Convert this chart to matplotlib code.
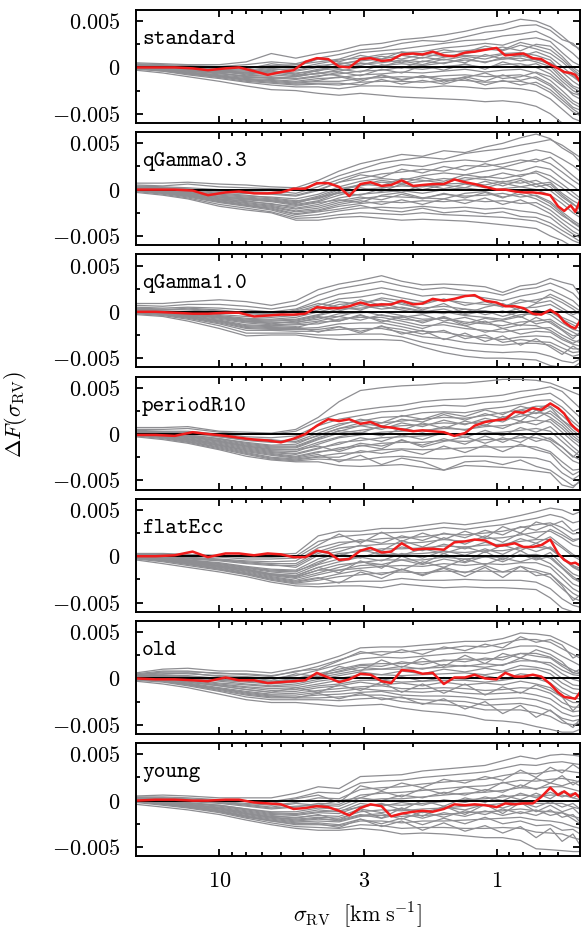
import numpy as np
import matplotlib.pyplot as plt
from matplotlib.ticker import FixedLocator, FixedFormatter, NullFormatter

plt.rcParams["mathtext.fontset"] = "cm"

# x positions (sigma_RV, km/s) of the grey model curves and of the red curve
sigma_grey = [20, 16, 13, 10, 8, 6.5, 5.3, 4.4, 3.7, 3.1, 2.6, 2.2, 1.85,
              1.55, 1.3, 1.1, 0.95, 0.82, 0.72, 0.64, 0.58, 0.53, 0.5]
sigma_red = [20, 17, 14.5, 12.5, 11, 9.5, 8.5, 7.5, 6.7, 6.0, 5.4, 4.9, 4.45,
             4.05, 3.7, 3.4, 3.1, 2.85, 2.6, 2.4, 2.2, 2.0, 1.85, 1.7, 1.55,
             1.42, 1.3, 1.2, 1.1, 1.0, 0.93, 0.86, 0.8, 0.74, 0.69, 0.64,
             0.6, 0.57, 0.54, 0.52, 0.5]

panel_labels = ["standard", "qGamma0.3", "qGamma1.0", "periodR10",
                "flatEcc", "old", "young"]

# all Delta F values below are in units of 1e-3
grey_standard = [
    [0.5, 0.4, 0.3, 0.3, 0.6, 1.5, 1.0, 1.5, 1.8, 2.4, 2.6, 3.0, 3.2, 3.5, 3.9, 4.4, 4.7, 5.2, 5.0, 4.4, 3.4, 2.4, 2.0],
    [0.4, 0.3, 0.2, 0.1, 0.3, 0.6, 0.4, 1.0, 1.4, 1.9, 2.1, 2.6, 2.9, 2.8, 3.3, 3.8, 4.0, 4.5, 4.6, 4.0, 3.0, 2.6, 1.8],
    [0.3, 0.2, 0.1, -0.1, 0.0, 0.2, 0.3, 0.6, 0.9, 1.6, 1.8, 2.0, 2.3, 2.6, 2.9, 3.0, 3.4, 3.6, 3.9, 3.2, 2.4, 1.5, 0.8],
    [0.3, 0.1, 0.0, -0.2, -0.3, 0.0, -0.1, 0.4, 0.8, 1.0, 1.4, 1.6, 1.7, 2.1, 2.3, 2.6, 2.4, 3.0, 3.2, 2.8, 1.6, 0.6, 0.2],
    [0.2, 0.0, -0.2, -0.4, -0.5, -0.2, -0.3, 0.2, 0.4, 0.7, 0.9, 1.3, 1.0, 1.6, 1.8, 2.0, 1.8, 2.4, 2.0, 1.5, 0.6, -0.4, -1.0],
    [0.1, -0.1, -0.3, -0.5, -0.7, -0.5, -0.7, -0.2, 0.1, 0.4, 0.5, 0.8, 0.6, 1.1, 1.3, 1.2, 1.5, 1.6, 1.3, 0.8, -0.5, -1.5, -2.0],
    [0.1, -0.2, -0.4, -0.7, -0.9, -0.8, -1.0, -0.6, -0.4, 0.0, 0.2, 0.4, 0.2, 0.5, 0.8, 0.6, 0.9, 1.0, 0.6, 0.1, -1.2, -2.2, -2.6],
    [0.0, -0.2, -0.5, -0.8, -1.1, -1.0, -1.2, -0.9, -0.7, -0.4, -0.3, 0.0, -0.2, 0.1, 0.3, 0.0, 0.3, 0.4, 0.0, -0.7, -1.8, -3.0, -3.4],
    [0.0, -0.3, -0.5, -0.9, -1.2, -1.3, -1.5, -1.2, -1.1, -0.8, -0.7, -0.5, -0.6, -0.4, -0.2, -0.5, -0.3, -0.2, -0.6, -1.4, -2.5, -3.6, -4.0],
    [-0.1, -0.3, -0.6, -1.0, -1.3, -1.5, -1.7, -1.5, -1.5, -1.2, -1.1, -1.0, -1.1, -0.9, -0.8, -1.0, -0.9, -0.8, -1.2, -2.0, -3.2, -4.3, -4.6],
    [-0.1, -0.4, -0.7, -1.1, -1.5, -1.7, -1.9, -1.8, -1.9, -1.6, -1.5, -1.5, -1.6, -1.4, -1.4, -1.6, -1.5, -1.5, -1.9, -2.7, -3.8, -4.8, -5.2],
    [-0.2, -0.4, -0.8, -1.2, -1.6, -1.9, -2.1, -2.1, -2.3, -2.0, -2.0, -2.1, -2.2, -2.0, -2.1, -2.3, -2.2, -2.3, -2.6, -3.4, -4.5, -5.5, -5.8],
    [-0.3, -0.6, -1.0, -1.5, -2.0, -2.4, -2.5, -2.8, -3.0, -2.8, -3.0, -3.2, -3.3, -3.4, -3.5, -3.7, -3.6, -3.8, -4.2, -5.0, -6.0, -6.5, -6.5],
    [0.2, 0.1, 0.0, -0.3, -0.6, -0.4, -0.6, -0.4, 0.3, 0.8, 1.2, 0.9, 1.4, 1.2, 1.5, 1.9, 2.2, 1.8, 2.5, 2.3, 1.2, 0.0, -0.5],
    [0.0, -0.2, -0.4, -0.6, -1.0, -1.2, -1.0, -0.6, -0.9, -1.3, -0.9, -1.4, -0.9, -1.3, -1.1, -0.6, -1.2, -1.0, -0.5, -1.0, -2.0, -2.8, -3.0],
    [0.2, 0.0, -0.1, -0.4, -0.8, -0.6, -0.9, -0.3, -0.1, 0.5, 0.1, 0.7, 0.3, 0.9, 0.5, 1.4, 0.9, 1.3, 0.8, 0.5, -0.3, -1.0, -1.6],
    [0.1, -0.1, -0.3, -0.6, -1.0, -1.1, -1.3, -1.0, -0.5, -0.9, -0.2, -0.6, 0.2, -0.3, 0.4, -0.2, 0.6, 0.1, 0.4, -0.3, -1.5, -2.5, -2.9],
    [0.3, 0.2, 0.0, -0.1, -0.2, 0.4, 0.1, 0.9, 0.6, 1.3, 0.9, 1.7, 1.3, 1.9, 1.6, 2.3, 1.9, 2.7, 2.3, 1.9, 0.9, -0.2, -0.8],
    [0.0, -0.3, -0.6, -0.9, -1.3, -1.4, -1.6, -1.4, -1.0, -1.5, -0.8, -1.3, -0.9, -1.6, -1.0, -1.5, -0.8, -1.4, -1.0, -1.8, -2.9, -3.9, -4.3],
    [0.1, -0.1, -0.2, -0.5, -0.6, -0.3, -0.8, -0.7, -0.2, -0.5, 0.3, -0.1, 0.7, 0.4, 1.0, 0.5, 1.1, 0.7, 0.9, 0.3, -0.9, -2.0, -2.3],
    [0.2, 0.1, -0.1, -0.3, -0.4, -0.1, -0.4, 0.0, 0.5, 0.2, 0.8, 0.5, 1.1, 0.8, 1.2, 0.9, 1.4, 1.2, 1.7, 1.1, 0.1, -0.9, -1.4],
    [-0.1, -0.3, -0.7, -1.0, -1.4, -1.6, -1.8, -1.7, -1.7, -1.9, -1.3, -1.8, -1.4, -1.8, -1.2, -1.9, -1.4, -1.9, -1.6, -2.4, -3.5, -4.5, -5.0],
]
grey_qgamma03 = [
    [0.7, 0.7, 0.8, 0.6, 0.5, 0.3, 0.2, 1.0, 2.0, 2.8, 3.3, 3.8, 3.6, 4.2, 4.0, 4.6, 5.0, 5.6, 6.0, 5.5, 4.5, 3.8, 3.0],
    [0.5, 0.4, 0.6, 0.3, 0.2, 0.1, 0.0, 0.6, 1.5, 2.2, 2.9, 3.2, 3.5, 3.3, 3.9, 4.2, 4.4, 4.8, 5.1, 5.4, 4.8, 4.0, 3.5],
    [0.4, 0.3, 0.2, 0.0, -0.2, -0.1, -0.4, 0.3, 1.1, 1.8, 2.2, 2.7, 2.5, 3.0, 3.2, 3.0, 3.5, 3.9, 4.3, 4.0, 3.3, 2.6, 2.0],
    [0.3, 0.2, 0.0, -0.3, -0.4, -0.5, -0.7, -0.1, 0.8, 1.2, 1.7, 1.9, 2.2, 2.0, 2.6, 2.5, 2.8, 3.2, 3.0, 3.5, 2.5, 1.5, 0.9],
    [0.2, 0.1, -0.2, -0.5, -0.7, -0.8, -1.0, -0.5, 0.3, 0.9, 1.2, 1.0, 1.5, 1.8, 1.6, 2.0, 2.3, 2.0, 2.5, 2.2, 1.2, 0.4, -0.2],
    [0.1, -0.1, -0.3, -0.7, -0.9, -1.1, -1.4, -0.9, 0.0, 0.4, 0.8, 0.6, 0.9, 1.2, 1.0, 1.4, 1.2, 1.6, 1.8, 1.0, 0.2, -0.7, -1.2],
    [0.1, -0.2, -0.4, -0.9, -1.1, -1.3, -1.7, -1.3, -0.6, 0.0, 0.2, 0.4, 0.3, 0.6, 0.7, 0.5, 0.9, 0.7, 1.0, 0.3, -0.8, -1.6, -2.0],
    [0.0, -0.2, -0.5, -1.0, -1.3, -1.5, -2.0, -1.6, -0.9, -0.5, -0.3, -0.1, -0.4, 0.0, 0.2, -0.1, 0.1, 0.3, 0.0, -0.6, -1.5, -2.5, -3.0],
    [0.0, -0.3, -0.6, -1.1, -1.5, -1.8, -2.3, -2.0, -1.4, -1.0, -0.7, -0.8, -0.9, -0.5, -0.7, -0.6, -0.4, -0.8, -0.6, -1.3, -2.4, -3.3, -3.8],
    [-0.1, -0.3, -0.7, -1.3, -1.7, -2.0, -2.6, -2.3, -1.8, -1.5, -1.3, -1.4, -1.2, -1.3, -1.1, -1.3, -1.2, -1.5, -1.4, -2.2, -3.2, -4.0, -4.5],
    [-0.1, -0.4, -0.8, -1.4, -1.8, -2.2, -2.9, -2.7, -2.3, -2.0, -1.9, -2.0, -1.8, -2.0, -1.9, -2.1, -2.0, -2.3, -2.5, -3.0, -4.0, -4.8, -5.2],
    [-0.2, -0.5, -0.9, -1.6, -2.0, -2.4, -3.1, -3.0, -2.7, -2.5, -2.6, -2.7, -2.5, -2.7, -2.8, -2.9, -3.0, -3.2, -3.4, -4.0, -4.8, -5.5, -5.8],
    [-0.3, -0.6, -1.0, -1.8, -2.2, -2.5, -3.3, -3.3, -3.0, -2.9, -3.1, -3.3, -3.2, -3.3, -3.4, -3.6, -3.8, -4.0, -4.2, -5.0, -5.5, -6.2, -6.2],
    [0.2, 0.0, -0.1, -0.4, -0.6, -0.9, -1.2, -1.0, -0.2, 0.6, 0.4, 1.2, 1.0, 0.7, 1.3, 1.1, 0.8, 1.2, 0.6, 0.8, -0.4, -1.2, -1.6],
    [0.0, -0.2, -0.6, -1.0, -1.2, -1.6, -1.8, -1.4, -1.1, -1.4, -0.6, -0.3, -0.9, -1.0, -0.4, -0.2, -0.8, -0.5, -1.0, -1.8, -2.8, -3.5, -4.0],
    [0.2, 0.0, -0.2, -0.6, -0.8, -1.0, -1.3, -0.7, 0.1, 0.5, 1.0, 0.7, 1.3, 0.9, 1.6, 1.3, 1.8, 1.4, 2.0, 1.5, 0.6, -0.3, -0.9],
    [0.1, -0.1, -0.4, -0.8, -1.0, -1.2, -1.6, -1.2, -0.3, -0.6, 0.1, -0.3, 0.5, 0.1, 0.6, 0.2, 0.7, 0.3, 0.6, -0.1, -1.1, -2.0, -2.5],
    [0.0, -0.2, -0.5, -1.1, -1.4, -1.7, -2.1, -1.8, -1.2, -0.8, -1.1, -0.5, -1.0, -0.4, -0.9, -0.3, -0.9, -0.2, -0.7, -1.5, -2.6, -3.6, -4.1],
    [0.1, -0.1, -0.3, -0.8, -1.0, -1.2, -1.5, -0.8, -0.4, 0.2, -0.2, 0.6, 0.0, 0.5, 0.2, 0.9, 0.4, 1.0, 0.3, 0.6, -0.6, -1.5, -2.2],
    [0.0, -0.3, -0.6, -1.2, -1.6, -1.9, -2.4, -2.2, -1.6, -1.2, -1.6, -1.1, -1.6, -1.0, -1.5, -0.9, -1.6, -1.1, -1.8, -2.6, -3.6, -4.5, -4.9],
    [0.3, 0.2, 0.1, -0.2, -0.4, -0.4, -0.6, 0.0, 0.8, 1.6, 1.3, 2.2, 1.8, 2.5, 2.1, 2.8, 2.4, 2.9, 3.3, 2.8, 1.9, 1.0, 0.5],
    [-0.1, -0.4, -0.7, -1.3, -1.7, -2.1, -2.7, -2.4, -2.1, -1.7, -2.2, -2.4, -2.0, -2.5, -2.3, -2.6, -2.4, -2.9, -3.0, -3.6, -4.4, -5.1, -5.6],
]
grey_qgamma10 = [
    [0.9, 0.9, 1.1, 1.3, 1.1, 0.7, 1.2, 2.4, 3.0, 3.4, 3.9, 3.3, 2.9, 3.0, 2.9, 2.7, 2.1, 2.8, 3.0, 3.6, 3.2, 2.9, 1.8],
    [0.7, 0.6, 0.8, 0.8, 0.6, 0.3, 0.7, 1.8, 2.5, 2.9, 3.3, 2.8, 2.4, 2.6, 2.3, 2.2, 1.8, 2.4, 2.6, 3.1, 2.6, 2.0, 1.2],
    [0.5, 0.4, 0.5, 0.4, 0.2, 0.0, 0.3, 1.2, 1.9, 2.2, 2.6, 2.2, 1.7, 1.9, 1.8, 1.5, 1.2, 1.7, 2.0, 2.4, 1.8, 1.2, 0.5],
    [0.4, 0.3, 0.2, 0.0, -0.2, -0.3, 0.0, 0.7, 1.4, 1.6, 2.0, 1.5, 1.1, 1.3, 1.0, 0.8, 0.6, 1.0, 1.3, 1.6, 1.0, 0.3, -0.3],
    [0.3, 0.1, 0.0, -0.3, -0.5, -0.6, -0.4, 0.2, 0.8, 1.0, 1.3, 0.8, 0.4, 0.6, 0.3, 0.1, -0.1, 0.4, 0.5, 0.8, 0.1, -0.5, -1.0],
    [0.2, 0.0, -0.2, -0.5, -0.8, -0.9, -0.8, -0.3, 0.3, 0.4, 0.6, 0.2, -0.2, 0.0, -0.4, -0.6, -0.8, -0.3, -0.2, 0.0, -0.8, -1.4, -1.8],
    [0.1, -0.1, -0.3, -0.7, -1.1, -1.2, -1.1, -0.8, -0.2, -0.1, 0.0, -0.4, -0.8, -0.7, -1.1, -1.3, -1.5, -1.1, -1.0, -0.8, -1.6, -2.2, -2.6],
    [0.0, -0.2, -0.5, -0.9, -1.4, -1.5, -1.4, -1.3, -0.8, -0.6, -0.6, -1.0, -1.5, -1.4, -1.8, -2.0, -2.2, -1.9, -1.8, -1.7, -2.5, -3.1, -3.3],
    [0.0, -0.2, -0.6, -1.1, -1.7, -1.8, -1.8, -1.7, -1.3, -1.2, -1.2, -1.6, -2.1, -2.2, -2.6, -2.8, -3.0, -2.7, -2.6, -2.7, -3.4, -4.0, -4.0],
    [-0.1, -0.3, -0.7, -1.3, -2.0, -2.0, -2.1, -2.1, -1.9, -1.8, -1.8, -2.2, -2.7, -2.9, -3.3, -3.5, -3.6, -3.4, -3.4, -3.6, -4.3, -4.8, -4.6],
    [-0.2, -0.4, -0.8, -1.5, -2.3, -2.3, -2.3, -2.5, -2.5, -2.4, -2.4, -2.7, -3.3, -3.7, -4.1, -4.3, -4.4, -4.3, -4.4, -4.8, -5.3, -5.5, -5.1],
    [-0.3, -0.5, -1.0, -1.8, -2.6, -2.5, -2.5, -2.8, -3.0, -3.0, -3.0, -3.1, -3.8, -4.4, -4.8, -5.0, -5.0, -5.1, -5.2, -5.8, -6.0, -6.0, -5.5],
    [0.3, 0.2, 0.4, 0.2, -0.1, -0.4, 0.2, 0.9, 0.5, 1.3, 0.7, 1.0, 0.2, 0.9, -0.2, 0.5, 0.9, 0.1, 0.9, 1.2, 0.4, -0.3, 0.0],
    [0.1, 0.0, -0.3, -0.6, -1.0, -1.3, -1.0, -0.5, -1.0, -0.3, -1.1, -0.5, -1.2, -0.5, -1.3, -0.7, -1.0, -1.5, -0.6, -1.2, -2.0, -2.9, -2.2],
    [0.0, -0.2, -0.4, -1.0, -1.6, -1.7, -1.6, -2.2, -1.6, -2.3, -1.5, -2.4, -2.0, -3.0, -2.3, -3.2, -2.6, -3.6, -2.9, -3.8, -4.6, -3.7, -4.2],
    [0.2, 0.0, -0.1, -0.4, -0.7, -0.8, -0.6, 0.0, 0.5, 0.2, 0.9, 0.4, 0.0, 0.3, -0.3, 0.1, -0.5, 0.0, -0.4, 0.3, -0.6, -1.1, -1.5],
    [0.1, -0.1, -0.3, -0.6, -1.0, -1.1, -1.2, -0.6, -0.5, 0.1, -0.4, -0.6, -0.3, -1.0, -0.6, -1.2, -0.9, -0.5, -1.3, -1.0, -1.9, -2.6, -2.4],
    [0.0, -0.2, -0.5, -1.0, -1.5, -1.6, -1.7, -1.1, -1.0, -0.4, -0.9, -1.3, -1.8, -1.1, -1.5, -2.2, -1.8, -2.4, -2.1, -2.2, -3.0, -3.5, -3.7],
    [0.3, 0.2, 0.3, 0.1, -0.1, -0.2, 0.1, 0.4, 1.1, 0.8, 1.5, 1.2, 0.8, 1.4, 0.7, 1.1, 0.5, 1.3, 1.0, 1.9, 1.3, 0.6, 0.1],
    [-0.1, -0.3, -0.6, -1.2, -1.8, -1.9, -1.9, -1.9, -1.6, -2.1, -1.6, -1.9, -2.4, -2.0, -2.9, -2.5, -3.3, -3.0, -3.2, -3.3, -3.9, -4.4, -4.3],
    [0.0, -0.1, -0.4, -0.8, -1.2, -1.4, -1.3, -1.0, -0.5, -0.9, -0.3, -0.8, -1.0, -0.6, -1.5, -1.0, -1.8, -1.4, -1.5, -2.0, -2.8, -3.4, -3.0],
    [0.1, 0.0, -0.2, -0.5, -0.9, -1.0, -0.9, -0.4, 0.1, 0.7, 0.3, 0.5, 0.1, -0.2, 0.3, -0.3, 0.1, -0.6, 0.2, -0.3, -1.2, -1.9, -2.1],
]
grey_periodr10 = [
    [0.7, 0.7, 0.8, 0.3, 0.2, 0.1, 0.5, 1.8, 3.5, 4.7, 5.0, 5.2, 5.3, 5.5, 5.5, 5.7, 5.9, 5.9, 5.8, 5.5, 5.0, 4.5, 4.2],
    [0.5, 0.5, 0.6, 0.2, 0.0, 0.0, 0.3, 1.4, 2.2, 2.6, 2.9, 3.1, 3.5, 3.7, 3.8, 4.0, 4.2, 4.6, 4.8, 5.1, 4.6, 3.5, 2.8],
    [0.4, 0.3, 0.3, 0.0, -0.3, -0.4, -0.2, 0.9, 1.6, 2.0, 2.4, 2.5, 2.9, 3.1, 3.0, 3.4, 3.5, 3.9, 4.2, 4.4, 3.6, 2.5, 1.8],
    [0.3, 0.2, 0.1, -0.3, -0.6, -0.8, -0.6, 0.4, 1.1, 1.4, 1.8, 1.9, 2.3, 2.4, 2.3, 2.7, 2.9, 3.2, 3.6, 3.7, 2.9, 1.8, 1.0],
    [0.2, 0.1, -0.1, -0.5, -0.9, -1.2, -1.1, -0.1, 0.6, 0.9, 1.2, 1.4, 1.6, 1.8, 1.7, 2.0, 2.3, 2.6, 3.0, 3.0, 2.0, 0.9, 0.3],
    [0.1, 0.0, -0.3, -0.7, -1.2, -1.5, -1.5, -0.6, 0.1, 0.4, 0.7, 0.9, 1.0, 1.2, 1.1, 1.4, 1.6, 1.9, 2.3, 2.2, 1.2, 0.1, -0.5],
    [0.1, -0.1, -0.4, -0.9, -1.4, -1.8, -1.9, -1.1, -0.4, -0.1, 0.2, 0.3, 0.4, 0.6, 0.5, 0.8, 0.9, 1.2, 1.5, 1.3, 0.2, -0.8, -1.4],
    [0.0, -0.2, -0.5, -1.1, -1.6, -2.0, -2.2, -1.6, -0.9, -0.7, -0.4, -0.3, -0.2, 0.0, -0.1, 0.1, 0.2, 0.4, 0.6, 0.3, -0.8, -1.8, -2.4],
    [0.0, -0.3, -0.6, -1.2, -1.8, -2.2, -2.5, -2.0, -1.5, -1.3, -1.0, -0.9, -0.9, -0.7, -0.8, -0.6, -0.6, -0.4, -0.4, -0.8, -1.9, -2.9, -3.2],
    [-0.1, -0.4, -0.8, -1.4, -2.0, -2.5, -2.7, -2.4, -2.1, -2.0, -1.7, -1.6, -1.7, -1.6, -1.5, -1.4, -1.4, -1.3, -1.4, -1.9, -3.0, -3.9, -3.8],
    [-0.2, -0.5, -0.9, -1.6, -2.2, -2.7, -2.9, -2.7, -2.8, -2.8, -2.5, -2.4, -2.6, -2.7, -2.4, -2.4, -2.5, -2.5, -2.6, -3.0, -4.2, -4.9, -4.4],
    [-0.3, -0.6, -1.0, -1.7, -2.4, -2.8, -3.0, -3.0, -3.4, -3.5, -3.4, -3.3, -3.6, -3.9, -3.4, -3.5, -3.6, -3.8, -4.0, -4.2, -5.5, -5.8, -5.0],
    [0.3, 0.2, 0.2, -0.2, -0.5, -0.6, -0.9, -0.2, 0.6, 1.2, 0.8, 1.6, 1.3, 2.1, 1.5, 2.2, 1.7, 2.6, 2.2, 2.9, 1.5, 0.7, 0.1],
    [0.1, -0.1, -0.2, -0.8, -1.3, -1.7, -1.7, -1.3, -1.9, -1.2, -1.6, -0.6, -1.4, -0.8, -0.3, -1.0, -0.4, -0.9, 0.0, -0.6, -1.4, -2.5, -1.8],
    [0.0, -0.3, -0.7, -1.3, -1.9, -2.3, -2.6, -2.2, -3.0, -2.3, -3.3, -2.6, -3.0, -3.9, -3.0, -2.9, -3.3, -2.8, -3.5, -3.9, -4.8, -5.6, -5.2],
    [0.2, 0.1, -0.1, -0.5, -1.0, -1.3, -1.3, -0.4, 0.3, 0.9, 0.5, 1.2, 0.8, 1.5, 1.0, 1.7, 1.3, 2.2, 1.7, 2.5, 1.5, 0.4, -0.2],
    [0.1, -0.1, -0.3, -0.8, -1.3, -1.6, -1.7, -0.9, -0.3, 0.2, -0.2, 0.6, 0.2, 0.8, 0.4, 1.0, 0.6, 1.4, 1.0, 1.6, 0.6, -0.5, -1.0],
    [0.0, -0.2, -0.5, -1.0, -1.5, -1.9, -2.1, -1.5, -1.1, -0.4, -0.8, -0.1, -0.6, 0.2, -0.4, 0.4, -0.2, 0.7, 0.2, 0.8, -0.3, -1.4, -2.0],
    [0.0, -0.3, -0.6, -1.2, -1.7, -2.1, -2.4, -1.9, -1.7, -1.0, -1.3, -0.7, -1.2, -0.5, -1.1, -0.2, -0.9, -0.1, -0.8, -0.4, -1.4, -2.4, -2.8],
    [0.3, 0.2, 0.1, -0.3, -0.7, -0.9, -0.8, 0.1, 0.9, 1.6, 1.2, 2.0, 1.6, 2.3, 1.9, 2.6, 2.1, 3.0, 2.6, 3.3, 2.4, 1.3, 0.7],
    [-0.1, -0.4, -0.8, -1.5, -2.1, -2.6, -2.8, -2.5, -2.5, -1.8, -2.1, -1.7, -2.2, -1.3, -2.0, -1.2, -1.9, -1.1, -1.7, -2.1, -3.5, -4.4, -4.0],
    [0.1, 0.0, -0.2, -0.6, -1.1, -1.4, -1.4, -0.5, 0.4, 0.1, 0.9, 0.4, 1.2, 0.6, 1.4, 0.9, 1.9, 1.4, 2.6, 1.8, 0.9, -0.2, -0.8],
]
grey_flatecc = [
    [0.3, 0.3, 0.2, 0.1, 0.1, 0.2, 0.3, 2.2, 2.7, 2.7, 3.0, 3.0, 3.3, 3.6, 3.4, 3.7, 4.0, 4.4, 4.8, 5.2, 5.0, 4.5, 4.8],
    [0.2, 0.2, 0.1, 0.0, -0.1, -0.1, 0.0, 1.6, 2.1, 2.3, 2.5, 2.6, 2.8, 3.1, 2.9, 3.2, 3.4, 3.8, 4.1, 4.5, 4.2, 3.6, 3.8],
    [0.1, 0.0, -0.1, -0.3, -0.5, -0.6, -0.5, 0.9, 1.5, 1.6, 1.9, 2.0, 2.1, 2.4, 2.3, 2.5, 2.7, 3.1, 3.4, 3.6, 3.1, 2.4, 2.5],
    [0.1, -0.1, -0.3, -0.5, -0.8, -1.0, -1.0, 0.3, 0.9, 1.1, 1.3, 1.4, 1.5, 1.8, 1.6, 1.9, 2.0, 2.3, 2.6, 2.7, 2.0, 1.2, 1.0],
    [0.0, -0.2, -0.4, -0.7, -1.1, -1.4, -1.5, -0.3, 0.3, 0.5, 0.8, 0.8, 0.9, 1.1, 1.0, 1.2, 1.3, 1.6, 1.8, 1.8, 0.9, 0.0, -0.4],
    [0.0, -0.3, -0.5, -0.9, -1.3, -1.7, -1.9, -0.9, -0.3, -0.1, 0.2, 0.2, 0.3, 0.5, 0.4, 0.6, 0.6, 0.9, 1.0, 0.8, -0.2, -1.2, -1.6],
    [-0.1, -0.3, -0.6, -1.1, -1.5, -2.0, -2.3, -1.5, -0.9, -0.7, -0.4, -0.4, -0.4, -0.1, -0.3, -0.1, -0.1, 0.1, 0.2, -0.2, -1.3, -2.4, -2.8],
    [-0.1, -0.4, -0.7, -1.2, -1.7, -2.2, -2.6, -2.0, -1.5, -1.3, -1.1, -1.0, -1.1, -0.8, -1.0, -0.8, -0.9, -0.7, -0.7, -1.2, -2.4, -3.5, -3.9],
    [-0.2, -0.5, -0.8, -1.4, -1.9, -2.5, -2.9, -2.6, -2.2, -2.0, -1.8, -1.7, -1.8, -1.6, -1.7, -1.6, -1.7, -1.6, -1.7, -2.3, -3.5, -4.5, -4.8],
    [-0.3, -0.6, -1.0, -1.5, -2.0, -2.6, -3.0, -3.0, -2.8, -2.7, -2.7, -2.4, -2.6, -2.6, -2.5, -2.6, -2.6, -2.6, -2.8, -3.5, -4.6, -5.3, -5.5],
    [-0.4, -0.8, -1.2, -1.7, -2.2, -2.8, -3.2, -3.3, -3.2, -3.2, -3.4, -3.0, -3.2, -3.4, -3.3, -3.4, -3.4, -3.5, -3.6, -4.5, -5.6, -6.0, -6.0],
    [0.1, 0.0, -0.2, -0.4, -0.7, -0.9, -1.2, 0.1, 0.5, 1.2, 0.6, 1.7, 1.0, 2.0, 1.3, 2.2, 1.5, 2.5, 1.9, 2.9, 2.3, 1.6, 1.9],
    [-0.1, -0.3, -0.5, -1.0, -1.4, -1.9, -2.1, -1.2, -1.8, -0.5, -1.3, 0.0, -0.8, 0.3, -0.6, 0.5, -0.4, 0.6, -0.3, 0.4, -0.9, -1.9, -2.2],
    [-0.2, -0.4, -0.8, -1.3, -1.8, -2.3, -2.7, -2.3, -2.9, -1.7, -2.4, -1.4, -2.1, -1.3, -2.2, -1.2, -2.3, -1.1, -2.1, -1.9, -3.2, -4.8, -4.2],
    [0.2, 0.1, 0.0, -0.1, -0.3, -0.3, -0.2, 1.2, 2.4, 1.4, 2.6, 1.6, 2.5, 1.8, 2.7, 2.0, 3.2, 2.5, 3.7, 3.3, 3.8, 2.7, 3.0],
    [0.0, -0.2, -0.4, -0.8, -1.2, -1.6, -1.7, -0.6, 0.1, 0.7, 0.2, 1.0, 0.6, 1.3, 0.8, 1.5, 1.1, 1.9, 1.4, 2.1, 1.1, 0.2, -0.2],
    [-0.1, -0.3, -0.6, -1.0, -1.4, -1.9, -2.1, -1.2, -0.6, -0.1, -0.5, 0.3, -0.2, 0.6, 0.1, 0.8, 0.2, 1.1, 0.5, 1.0, -0.1, -1.1, -1.5],
    [-0.1, -0.4, -0.7, -1.2, -1.6, -2.1, -2.4, -1.8, -1.2, -0.6, -0.9, -0.4, -0.9, -0.3, -0.7, 0.0, -0.6, 0.2, -0.4, 0.0, -1.2, -2.2, -2.7],
    [0.1, 0.0, -0.2, -0.4, -0.6, -0.8, -0.8, 0.5, 1.2, 1.8, 1.4, 2.2, 1.7, 2.5, 2.0, 2.8, 2.3, 3.2, 2.8, 3.4, 2.6, 1.8, 1.9],
    [-0.2, -0.5, -0.9, -1.4, -1.9, -2.4, -2.8, -2.4, -1.9, -1.5, -2.0, -1.4, -2.0, -1.2, -1.8, -1.0, -1.7, -1.1, -1.5, -1.9, -3.0, -4.0, -4.4],
    [0.0, -0.2, -0.5, -0.8, -1.2, -1.5, -1.6, -0.8, 0.3, -0.2, 0.6, 0.1, 0.8, 0.3, 1.0, 0.4, 1.2, 0.6, 1.4, 0.8, -0.1, -1.0, -1.3],
    [-0.1, -0.3, -0.6, -1.1, -1.5, -2.0, -2.2, -1.5, -1.5, -1.0, -0.9, -1.5, -0.6, -1.2, -0.3, -0.9, -0.2, -0.6, -0.1, -0.8, -1.9, -3.0, -3.3],
]
grey_old = [
    [0.6, 1.0, 1.1, 0.8, 0.8, 0.6, 1.1, 1.7, 2.4, 3.3, 3.4, 3.4, 3.6, 3.8, 4.0, 4.0, 4.3, 4.9, 4.8, 4.6, 4.0, 3.4, 3.0],
    [0.5, 0.8, 0.8, 0.5, 0.5, 0.3, 0.7, 1.3, 2.0, 2.7, 2.9, 2.8, 3.1, 3.2, 3.5, 3.4, 3.8, 4.2, 4.2, 3.9, 3.2, 2.6, 2.2],
    [0.4, 0.6, 0.5, 0.3, 0.2, 0.0, 0.3, 0.9, 1.5, 2.1, 2.3, 2.2, 2.4, 2.6, 2.8, 2.7, 3.1, 3.5, 3.5, 3.1, 2.4, 1.8, 1.4],
    [0.3, 0.4, 0.3, 0.0, -0.1, -0.3, 0.0, 0.5, 1.0, 1.5, 1.6, 1.6, 1.8, 1.9, 2.1, 2.0, 2.3, 2.7, 2.7, 2.3, 1.5, 0.9, 0.6],
    [0.2, 0.2, 0.1, -0.2, -0.4, -0.6, -0.4, 0.1, 0.5, 0.9, 1.0, 1.0, 1.1, 1.2, 1.4, 1.2, 1.5, 1.9, 1.9, 1.4, 0.5, -0.1, -0.3],
    [0.1, 0.1, -0.1, -0.5, -0.7, -0.9, -0.8, -0.3, 0.0, 0.4, 0.4, 0.3, 0.4, 0.5, 0.6, 0.4, 0.7, 1.0, 1.0, 0.5, -0.5, -1.1, -1.2],
    [0.1, 0.0, -0.3, -0.7, -1.0, -1.3, -1.2, -0.8, -0.6, -0.2, -0.2, -0.4, -0.3, -0.2, -0.2, -0.4, -0.2, 0.1, 0.0, -0.5, -1.5, -2.1, -2.2],
    [0.0, -0.2, -0.5, -1.0, -1.4, -1.7, -1.6, -1.3, -1.1, -0.9, -0.8, -1.1, -1.1, -1.0, -1.1, -1.3, -1.2, -1.0, -1.1, -1.6, -2.6, -3.1, -3.1],
    [-0.1, -0.3, -0.7, -1.2, -1.7, -2.0, -2.0, -1.8, -1.7, -1.5, -1.4, -1.8, -1.9, -1.9, -2.0, -2.3, -2.2, -2.1, -2.3, -2.8, -3.7, -4.1, -4.0],
    [-0.2, -0.4, -0.8, -1.4, -2.0, -2.3, -2.3, -2.3, -2.4, -2.2, -2.1, -2.5, -2.7, -2.8, -3.0, -3.4, -3.4, -3.4, -3.7, -4.1, -4.8, -5.0, -4.8],
    [-0.3, -0.6, -1.0, -1.7, -2.3, -2.6, -2.6, -2.8, -3.0, -2.9, -2.8, -3.2, -3.5, -3.7, -4.0, -4.5, -4.6, -4.8, -5.2, -5.5, -5.8, -5.8, -5.5],
    [0.3, 0.5, 0.6, 0.2, 0.1, -0.2, 0.5, 0.2, 1.3, 0.8, 2.0, 1.2, 2.2, 1.3, 2.5, 1.6, 2.7, 2.2, 3.1, 2.6, 1.8, 0.6, 1.0],
    [0.0, -0.1, -0.4, -0.8, -1.2, -1.5, -1.0, -1.5, -0.7, -1.3, -0.4, -1.5, -0.6, -1.6, -0.6, -1.8, -0.9, -1.6, -0.7, -1.3, -2.0, -3.5, -2.7],
    [-0.1, -0.3, -0.6, -1.1, -1.6, -1.9, -2.1, -1.6, -2.2, -1.6, -2.3, -2.0, -2.8, -2.2, -3.3, -2.5, -3.8, -2.9, -4.2, -3.4, -4.5, -5.3, -4.4],
    [0.4, 0.7, 0.7, 0.6, 0.4, 0.2, 0.8, 1.0, 1.9, 2.9, 2.5, 3.1, 2.6, 3.4, 3.0, 3.7, 3.3, 4.5, 3.9, 4.2, 3.6, 2.2, 2.6],
    [0.2, 0.2, 0.0, -0.3, -0.6, -0.8, -0.6, -0.1, 0.3, 0.7, 0.4, 0.8, 0.5, 1.0, 0.7, 1.1, 0.8, 1.4, 1.2, 0.9, 0.0, -0.7, -0.8],
    [0.1, 0.0, -0.2, -0.6, -0.9, -1.1, -1.0, -0.6, -0.2, 0.1, -0.2, 0.2, -0.3, 0.1, -0.1, 0.3, -0.1, 0.5, 0.3, 0.0, -1.0, -1.6, -1.7],
    [0.0, -0.1, -0.4, -0.8, -1.2, -1.5, -1.4, -1.0, -0.8, -0.4, -0.7, -0.5, -0.8, -0.4, -0.7, -0.5, -0.7, -0.3, -0.6, -1.0, -2.0, -2.6, -2.6],
    [-0.1, -0.2, -0.6, -1.1, -1.5, -1.8, -1.8, -1.5, -1.4, -1.1, -1.3, -1.4, -1.5, -1.3, -1.6, -1.7, -1.6, -1.5, -1.8, -2.2, -3.1, -3.6, -3.5],
    [0.3, 0.3, 0.2, -0.1, -0.2, -0.4, -0.1, 0.4, 0.7, 1.2, 1.0, 1.3, 1.0, 1.5, 1.3, 1.6, 1.4, 2.2, 1.8, 1.7, 0.9, 0.4, 0.3],
    [-0.1, -0.3, -0.7, -1.3, -1.8, -2.1, -2.1, -2.1, -2.0, -1.8, -1.8, -2.1, -2.3, -2.4, -2.5, -2.9, -2.8, -2.7, -3.0, -3.5, -4.3, -4.6, -4.4],
    [0.2, 0.3, 0.2, -0.1, -0.3, -0.5, -0.2, 0.2, 0.8, 1.4, 1.3, 1.8, 1.5, 2.0, 1.8, 2.2, 2.0, 2.7, 2.4, 2.2, 1.3, 0.6, 0.5],
]
grey_young = [
    [0.5, 0.6, 0.5, 0.3, 0.3, 0.3, 0.8, 1.5, 1.3, 2.6, 2.7, 2.8, 3.2, 3.4, 3.6, 3.8, 4.3, 4.8, 4.5, 4.9, 5.0, 4.9, 4.8],
    [0.4, 0.4, 0.3, 0.1, 0.0, -0.1, 0.3, 0.9, 0.8, 1.9, 2.1, 2.2, 2.5, 2.7, 2.9, 3.1, 3.5, 3.9, 3.8, 4.1, 4.2, 4.0, 3.9],
    [0.3, 0.3, 0.1, -0.1, -0.3, -0.5, -0.2, 0.3, 0.2, 1.2, 1.4, 1.5, 1.8, 2.0, 2.2, 2.3, 2.7, 3.0, 2.9, 3.2, 3.3, 3.1, 3.0],
    [0.2, 0.1, -0.1, -0.3, -0.6, -0.9, -0.7, -0.3, -0.4, 0.6, 0.8, 0.9, 1.1, 1.3, 1.5, 1.6, 1.9, 2.2, 2.1, 2.3, 2.4, 2.2, 2.0],
    [0.1, 0.0, -0.3, -0.5, -0.9, -1.2, -1.2, -0.8, -0.9, 0.0, 0.2, 0.2, 0.4, 0.6, 0.8, 0.9, 1.1, 1.4, 1.3, 1.5, 1.5, 1.2, 1.0],
    [0.1, -0.1, -0.4, -0.7, -1.1, -1.5, -1.6, -1.3, -1.4, -0.6, -0.4, -0.5, -0.3, -0.1, 0.1, 0.2, 0.4, 0.6, 0.5, 0.6, 0.6, 0.3, 0.1],
    [0.0, -0.2, -0.5, -0.9, -1.4, -1.8, -2.0, -1.8, -1.9, -1.2, -1.0, -1.1, -0.9, -0.8, -0.6, -0.5, -0.3, -0.1, -0.3, -0.3, -0.3, -0.7, -0.9],
    [0.0, -0.3, -0.6, -1.1, -1.6, -2.0, -2.3, -2.2, -2.3, -1.7, -1.6, -1.7, -1.6, -1.5, -1.3, -1.2, -1.1, -0.9, -1.1, -1.2, -1.3, -1.7, -1.9],
    [-0.1, -0.4, -0.7, -1.2, -1.8, -2.2, -2.6, -2.6, -2.7, -2.2, -2.2, -2.4, -2.2, -2.2, -2.1, -2.0, -1.9, -1.8, -2.1, -2.2, -2.4, -2.8, -3.0],
    [-0.2, -0.5, -0.8, -1.3, -1.9, -2.4, -2.8, -2.9, -3.0, -2.6, -2.7, -3.0, -2.9, -2.9, -3.0, -3.0, -2.9, -3.0, -3.4, -3.5, -3.6, -4.0, -4.2],
    [-0.4, -0.7, -1.0, -1.5, -2.1, -2.6, -3.0, -3.2, -3.2, -3.0, -3.2, -3.6, -3.5, -3.6, -3.8, -4.0, -4.0, -4.3, -5.2, -5.3, -5.4, -5.5, -5.5],
    [0.3, 0.2, 0.0, -0.2, -0.4, -0.7, -0.3, -0.5, 0.0, 0.3, 1.0, 0.4, 1.3, 0.7, 1.5, 1.0, 2.0, 1.4, 2.4, 1.9, 2.7, 1.7, 2.2],
    [0.0, -0.2, -0.4, -0.8, -1.2, -1.6, -1.9, -1.5, -2.1, -1.0, -1.9, -0.8, -1.7, -0.6, -1.5, -0.4, -1.4, -0.2, -1.2, -0.5, -1.2, -0.8, -1.5],
    [-0.1, -0.3, -0.7, -1.1, -1.7, -2.1, -2.4, -2.5, -2.9, -2.0, -2.8, -2.2, -3.2, -2.4, -3.3, -2.7, -3.5, -2.8, -4.0, -3.0, -4.4, -3.6, -4.8],
    [0.2, 0.3, 0.2, 0.0, -0.1, -0.3, 0.2, 0.6, -0.2, 1.6, 1.1, 1.9, 1.4, 2.3, 1.9, 2.6, 2.2, 3.3, 2.5, 3.6, 3.0, 3.9, 3.4],
    [0.1, 0.0, -0.2, -0.5, -0.9, -1.3, -1.4, -1.0, -1.2, -0.3, -0.6, -0.2, -0.5, 0.1, -0.2, 0.4, 0.0, 0.8, 0.3, 0.9, 0.4, 0.8, 0.5],
    [0.0, -0.2, -0.5, -0.8, -1.3, -1.7, -1.8, -1.6, -1.7, -0.9, -1.3, -0.8, -1.3, -0.7, -1.0, -0.4, -0.8, -0.2, -0.7, -0.1, -0.7, -0.3, -0.9],
    [0.0, -0.3, -0.6, -1.0, -1.5, -1.9, -2.2, -2.0, -2.1, -1.5, -1.9, -1.4, -1.9, -1.3, -1.7, -1.1, -1.6, -1.2, -1.6, -1.0, -1.8, -1.5, -2.3],
    [0.2, 0.1, 0.0, -0.2, -0.5, -0.8, -0.6, -0.5, -0.6, 0.3, 0.0, 0.6, 0.3, 0.9, 0.6, 1.2, 0.9, 1.7, 1.2, 1.9, 1.6, 2.0, 1.6],
    [-0.1, -0.4, -0.7, -1.2, -1.7, -2.2, -2.5, -2.4, -2.6, -2.0, -2.5, -1.9, -2.6, -1.9, -2.5, -1.8, -2.5, -2.2, -2.7, -2.6, -3.2, -3.1, -3.6],
    [0.1, -0.1, -0.3, -0.6, -1.0, -1.4, -1.5, -1.2, -1.1, -0.7, -0.3, -1.0, 0.0, -0.6, 0.3, -0.2, 0.6, 0.1, 0.8, 0.2, 1.0, 0.3, 0.7],
    [0.0, -0.2, -0.5, -0.9, -1.4, -1.8, -2.1, -1.9, -2.2, -1.6, -1.4, -2.0, -1.2, -1.8, -1.1, -1.5, -0.9, -1.4, -1.0, -1.6, -1.3, -2.0, -2.5],
]

red_standard = [0, 0, 0, -0.1, -0.3, -0.1, 0, -0.4, -0.8, -0.5, -0.3, 0.6, 1.0, 0.9,
                0.1, 0.0, 0.9, 1.0, 0.7, 0.8, 1.4, 1.5, 1.4, 1.7, 1.3, 1.2, 1.6, 1.7,
                1.9, 2.1, 1.3, 1.4, 1.5, 1.0, 0.9, 0.3, -0.1, -0.5, -0.6, -0.8, -1.5]
red_qgamma03 = [0, 0, 0, -0.1, -0.6, -0.3, -0.2, -0.4, -0.4, -0.3, 0.1, 0.1, 0.7, 0.7,
                0.3, -0.7, 0.6, 0.8, 0.4, 0.5, 1.0, 0.4, 0.5, 0.6, 0.6, 1.1, 0.8, 0.6,
                0.3, 0.0, 0.0, -0.2, -0.3, -0.3, -0.4, -0.6, -1.8, -2.3, -1.7, -2.4, -1.2]
red_qgamma10 = [0, 0, -0.1, -0.2, -0.2, -0.1, -0.1, -0.5, -0.4, -0.3, -0.3, -0.2, 0.5, 0.4,
                0.4, 0.6, 1.0, 0.7, 0.8, 0.8, 1.2, 0.8, 0.9, 1.4, 1.2, 1.4, 1.7, 1.8,
                1.2, 1.0, 0.6, 0.6, 0.4, -0.2, -0.3, 0.2, -0.3, -1.1, -1.6, -1.8, -1.0]
red_periodr10 = [-0.1, -0.1, -0.2, 0.2, 0.0, -0.2, -0.4, -0.6, -0.7, -0.9, -0.5, 0.0, 0.9, 1.6,
                 1.4, 1.6, 1.1, 1.3, 0.8, 0.7, 0.5, 0.3, 0.4, 0.3, 0.2, -0.2, 0.1, 0.9,
                 1.3, 1.5, 1.6, 2.4, 2.3, 2.8, 2.6, 3.3, 2.8, 2.2, 1.1, 0.6, 0.2]
red_flatecc = [0, 0, 0.1, 0.5, -0.1, 0.3, 0.3, 0.1, 0.3, 0.2, -0.1, -0.1, 0.6, 0.4,
               -0.4, -0.3, 0.6, 0.9, 0.4, 0.5, 1.4, 0.7, 0.8, 0.8, 0.7, 1.5, 1.6, 1.8,
               1.7, 1.1, 1.2, 1.4, 1.0, 1.0, 1.2, 1.8, 0.3, -0.4, -0.8, -0.7, -1.0]
red_old = [0, -0.1, -0.1, -0.2, -0.3, 0.1, -0.2, -0.2, -0.5, -0.4, -0.3, -0.2, 0.6, 0.1,
           -0.4, -0.1, 0.5, 0.4, -0.3, -0.5, 0.9, 0.8, 0.5, 0.6, -0.6, 0.1, 0.1, 0.4,
           0.0, -0.1, 0.6, 0.2, 0.2, 0.4, 0.2, -0.6, -1.5, -2.0, -2.1, -2.2, -1.5]
red_young = [0, 0.1, 0.1, 0.0, 0.0, 0.1, 0.1, -0.2, -0.3, -0.4, -0.9, -0.8, -0.6, -0.7,
             -1.1, -1.6, -0.8, -0.4, -0.6, -1.7, -1.4, -1.2, -1.1, -1.2, -0.9, -0.4, -0.5, -0.4,
             -0.5, -0.7, -0.3, -0.4, -0.3, -0.3, 0.4, 1.4, 0.6, 1.0, 0.5, 0.8, 0.3]

greys = [grey_standard, grey_qgamma03, grey_qgamma10, grey_periodr10,
         grey_flatecc, grey_old, grey_young]
reds = [red_standard, red_qgamma03, red_qgamma10, red_periodr10,
        red_flatecc, red_old, red_young]

W, H = 581.0, 934.0
fig = plt.figure(figsize=(W / 100, H / 100), dpi=100)

for k in range(len(panel_labels)):
    top = 10 + 122.2 * k
    ax = fig.add_axes([136 / W, 1 - (top + 113) / H, 444 / W, 113 / H])

    for g in greys[k]:
        ax.plot(sigma_grey, np.array(g) * 1e-3, color="#8e8e92", lw=0.9)
    ax.axhline(0, color="k", lw=1.4)
    ax.plot(sigma_red, np.array(reds[k]) * 1e-3, color="#f01c1c", lw=1.8)

    ax.set_xscale("log")
    ax.set_xlim(20, 0.5)
    ax.set_ylim(-0.006, 0.0062)

    ax.xaxis.set_major_locator(FixedLocator([10, 3, 1]))
    ax.xaxis.set_minor_locator(FixedLocator([9, 8, 7, 6, 5, 4, 2, 0.9, 0.8, 0.7, 0.6]))
    ax.xaxis.set_minor_formatter(NullFormatter())
    if k == len(panel_labels) - 1:
        ax.xaxis.set_major_formatter(FixedFormatter([r"$10$", r"$3$", r"$1$"]))
    else:
        ax.xaxis.set_major_formatter(NullFormatter())

    ax.yaxis.set_major_locator(FixedLocator([-0.005, 0, 0.005]))
    ax.yaxis.set_minor_locator(FixedLocator([-0.0025, 0.0025]))
    ax.yaxis.set_major_formatter(FixedFormatter([r"$-0.005$", r"$0$", r"$0.005$"]))

    ax.tick_params(which="both", direction="in", top=True, right=True,
                   width=1.3, labelsize=16, pad=11)
    ax.tick_params(which="major", length=5)
    ax.tick_params(which="minor", length=2.8)
    for s in ax.spines.values():
        s.set_linewidth(1.4)

    ax.text(0.0135, 0.70, panel_labels[k], transform=ax.transAxes,
            fontsize=16, family="cmtt10", va="baseline", ha="left")

fig.text(16 / W, 1 - 414 / H, r"$\Delta F(\sigma_{\rm RV})$", rotation=90,
         ha="center", va="center", fontsize=16)
fig.text(357 / W, 1 - 915 / H, r"$\sigma_{\rm RV}\ \ [{\rm km}\;{\rm s}^{-1}]$",
         ha="center", va="center", fontsize=16)

fig.savefig("out.png", dpi=100)
